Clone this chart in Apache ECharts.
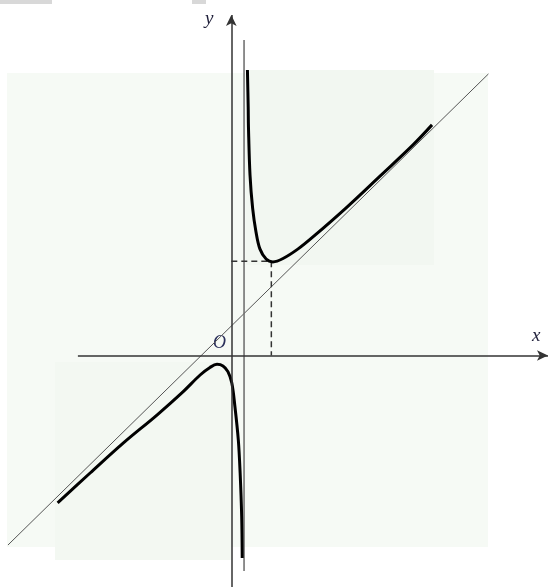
<!DOCTYPE html>
<html>
<head>
<meta charset="utf-8">
<script src="https://cdn.jsdelivr.net/npm/echarts@6/dist/echarts.min.js"></script>
<style>
  html, body { margin: 0; padding: 0; background: #fff; }
  #main { width: 553px; height: 588px; }
</style>
</head>
<body>
<div id="main"></div>
<script>
// right branch of the curve
var rightX = [0.62, 0.65, 0.66, 0.72, 0.82, 0.95, 1.10, 1.34, 1.60, 1.99, 2.57, 3.14, 4.45, 5.72, 6.99, 7.72];
var rightY = [10.98, 9.56, 8.79, 6.94, 5.67, 4.75, 4.10, 3.71, 3.60, 3.73, 4.10, 4.56, 5.71, 6.90, 8.10, 8.87];
// left branch
var leftX = [-6.68, -5.43, -4.17, -2.86, -1.86, -1.20, -0.82, -0.55, -0.32, -0.13, 0.02, 0.14, 0.27, 0.34, 0.40, 0.42];
var leftY = [-5.67, -4.52, -3.38, -2.29, -1.40, -0.75, -0.46, -0.34, -0.40, -0.62, -1.06, -1.97, -3.25, -4.52, -6.21, -7.79];
// oblique asymptote end points
var obliqueX = [-8.59, 9.89];
var obliqueY = [-7.29, 10.83];
// vertical asymptote
var vertX = 0.49;
var vertY = [-8.29, 12.13];
// minimum point (dashed guides)
var minPoint = [1.54, 3.62];
// axis extents
var xAxisRange = [-5.90, 12.18];
var yAxisRange = [-8.90, 13.10];

function pairs(xs, ys) {
  return xs.map(function (x, i) { return [x, ys[i]]; });
}

var myChart = echarts.init(document.getElementById('main'));

var option = {
  animation: false,
  backgroundColor: '#fff',
  grid: { left: 7, top: 10, width: 546, height: 577 },
  xAxis: {
    type: 'value', min: -8.627, max: 12.373,
    axisLine: { show: false }, axisTick: { show: false },
    axisLabel: { show: false }, splitLine: { show: false }
  },
  yAxis: {
    type: 'value', min: -8.904, max: 13.288,
    axisLine: { show: false }, axisTick: { show: false },
    axisLabel: { show: false }, splitLine: { show: false }
  },
  graphic: [
    { type: 'rect', z: -10, shape: { x: 7, y: 73, width: 481, height: 474 }, style: { fill: '#f6faf5' } },
    { type: 'rect', z: -9, shape: { x: 246, y: 70, width: 188, height: 195 }, style: { fill: '#f2f7f1' } },
    { type: 'rect', z: -9, shape: { x: 55, y: 362, width: 176, height: 198 }, style: { fill: '#f3f8f2' } },
    { type: 'rect', z: -9, shape: { x: 0, y: 0, width: 52, height: 4 }, style: { fill: '#d8d8d8' } },
    { type: 'rect', z: -9, shape: { x: 192, y: 0, width: 14, height: 4 }, style: { fill: '#d8d8d8' } },
    { type: 'text', left: 532, top: 326, style: { text: 'x', font: 'italic 19px "Liberation Serif", serif', fill: '#1f1f3a' } },
    { type: 'text', left: 205, top: 9, style: { text: 'y', font: 'italic 19px "Liberation Serif", serif', fill: '#1f1f3a' } },
    { type: 'text', left: 213, top: 334, style: { text: 'O', font: 'italic 18px "Liberation Serif", serif', fill: '#2a2f5a' } }
  ],
  series: [
    {
      name: 'axes', type: 'line', data: [], silent: true,
      markLine: {
        silent: true, symbol: ['none', 'arrow'], symbolSize: [8, 11],
        label: { show: false },
        lineStyle: { color: '#333', width: 1.5, type: 'solid' },
        data: [
          [{ coord: [xAxisRange[0], 0] }, { coord: [xAxisRange[1], 0] }],
          [{ coord: [0, yAxisRange[0]] }, { coord: [0, yAxisRange[1]] }]
        ]
      }
    },
    {
      name: 'oblique', type: 'line', showSymbol: false, silent: true, clip: false,
      lineStyle: { color: '#555', width: 1 },
      data: pairs(obliqueX, obliqueY)
    },
    {
      name: 'vertical', type: 'line', showSymbol: false, silent: true, clip: false,
      lineStyle: { color: '#6a6a6a', width: 1.5 },
      data: [[vertX, vertY[0]], [vertX, vertY[1]]]
    },
    {
      name: 'dashH', type: 'line', showSymbol: false, silent: true,
      lineStyle: { color: '#333', width: 1.5, type: [6, 4] },
      data: [[0, minPoint[1]], [minPoint[0], minPoint[1]]]
    },
    {
      name: 'dashV', type: 'line', showSymbol: false, silent: true,
      lineStyle: { color: '#333', width: 1.5, type: [6, 4] },
      data: [[minPoint[0], minPoint[1]], [minPoint[0], 0]]
    },
    {
      name: 'right', type: 'line', showSymbol: false, silent: true, clip: false,
      smooth: 0.35,
      lineStyle: { color: '#000', width: 3 },
      data: pairs(rightX, rightY)
    },
    {
      name: 'left', type: 'line', showSymbol: false, silent: true, clip: false,
      smooth: 0.35,
      lineStyle: { color: '#000', width: 3 },
      data: pairs(leftX, leftY)
    }
  ]
};

myChart.setOption(option);
</script>
</body>
</html>
